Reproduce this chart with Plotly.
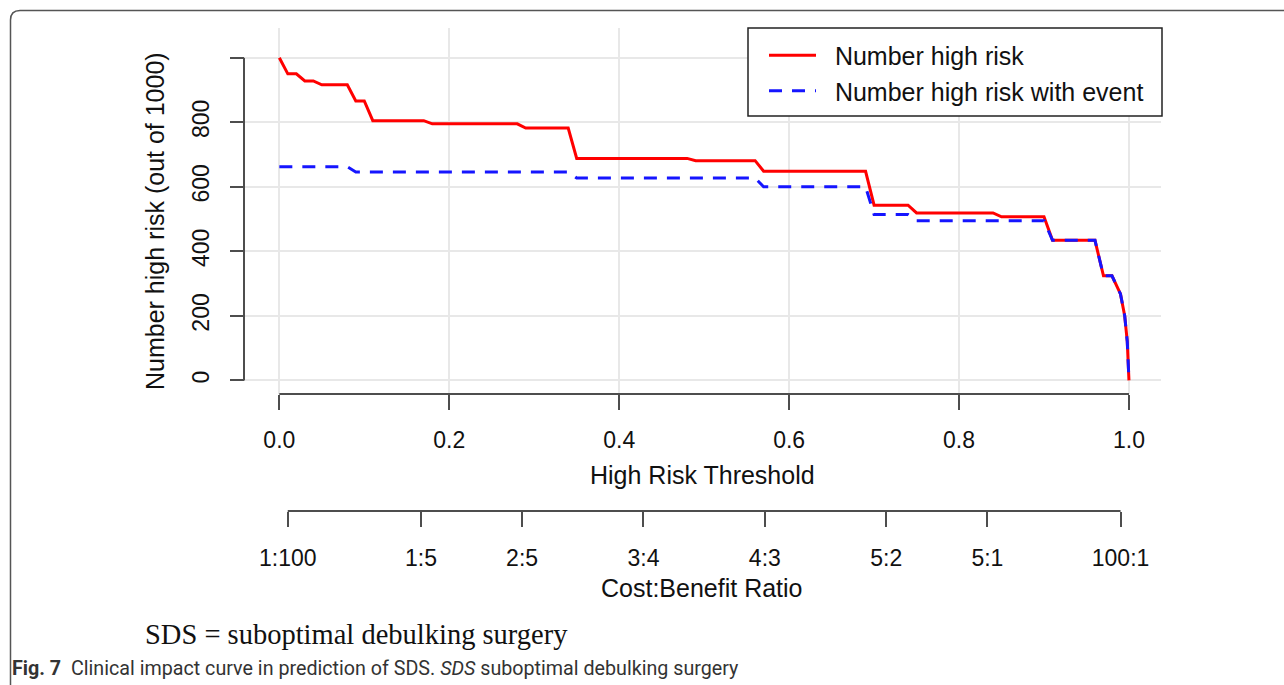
import plotly.graph_objects as go

# ---------------- data ----------------
threshold = [0.00, 0.01, 0.02, 0.03, 0.04, 0.05, 0.08, 0.09, 0.10, 0.11,
             0.17, 0.18, 0.28, 0.29, 0.34, 0.35, 0.48, 0.49, 0.56, 0.57,
             0.69, 0.70, 0.74, 0.75, 0.84, 0.85, 0.90, 0.91, 0.96, 0.97,
             0.98, 0.99, 0.995, 0.998, 1.00]
n_high_risk = [1000, 950, 950, 928, 928, 916, 916, 866, 866, 805,
               805, 795, 795, 782, 782, 688, 688, 681, 681, 648,
               648, 543, 543, 519, 519, 507, 507, 434, 434, 324,
               324, 268, 200, 120, 0]
n_high_risk_event = [662, 662, 662, 662, 662, 662, 662, 646, 646, 646,
                     646, 646, 646, 646, 646, 627, 627, 627, 627, 600,
                     600, 514, 514, 495, 495, 495, 495, 434, 434, 324,
                     324, 268, 200, 120, 0]

x_tick_vals = [0.0, 0.2, 0.4, 0.6, 0.8, 1.0]
x_tick_text = ["0.0", "0.2", "0.4", "0.6", "0.8", "1.0"]
y_tick_vals = [0, 200, 400, 600, 800, 1000]
y_tick_text = ["0", "200", "400", "600", "800", ""]
cb_cost = [1, 1, 2, 3, 4, 5, 5, 100]
cb_benefit = [100, 5, 5, 4, 3, 2, 1, 1]
cb_text = ["1:100", "1:5", "2:5", "3:4", "4:3", "5:2", "5:1", "100:1"]
cb_vals = [c / (c + b) for c, b in zip(cb_cost, cb_benefit)]

# ---------------- geometry ----------------
W, H = 1284, 685
ML, MR, MT, MB = 245, 123, 28, 174
PW = W - ML - MR
PH = H - MT - MB
X_RANGE = [-0.0404, 1.0377]
Y_RANGE = [-42, 1092]
Y_DOM_BOTTOM = (H - MB - 394) / PH


def px(xp):
    return (xp - ML) / PW


def py(yp):
    return (H - MB - yp) / PH


AX = "#4d4d4d"
FONT = "Liberation Sans, Arial, sans-serif"
GAP = "\u00a0\u00a0"

fig = go.Figure()
fig.add_trace(go.Scatter(
    x=threshold, y=n_high_risk, mode="lines", name=GAP + "Number high risk",
    line=dict(color="#ff0000", width=3)))
fig.add_trace(go.Scatter(
    x=threshold, y=n_high_risk_event, mode="lines",
    name=GAP + "Number high risk with event",
    line=dict(color="#1515ff", width=3, dash="13px,10px")))
# carrier for the cost:benefit axis
fig.add_trace(go.Scatter(x=cb_vals, y=[None] * len(cb_vals), mode="none",
                         xaxis="x2", showlegend=False, hoverinfo="skip"))

tickfont = dict(family=FONT, size=23, color="#111111")
fig.update_layout(
    width=W, height=H,
    margin=dict(l=ML, r=MR, t=MT, b=MB, autoexpand=False),
    paper_bgcolor="white", plot_bgcolor="white",
    xaxis=dict(range=X_RANGE, tickvals=x_tick_vals, ticktext=x_tick_text,
               showgrid=True, gridcolor="#e8e8e8", gridwidth=1.5,
               zeroline=False, showline=False, ticks="outside", ticklen=15,
               tickwidth=2, tickcolor=AX, tickfont=tickfont,
               ticklabelstandoff=10, automargin=False, anchor="y"),
    xaxis2=dict(range=X_RANGE, tickvals=cb_vals, ticktext=cb_text,
                overlaying="x", anchor="free", position=0, side="bottom",
                showgrid=False, zeroline=False, showline=False,
                ticks="outside", ticklen=15, tickwidth=2, tickcolor=AX,
                tickfont=tickfont, ticklabelstandoff=11, automargin=False),
    yaxis=dict(range=Y_RANGE, domain=[Y_DOM_BOTTOM, 1], tickvals=y_tick_vals,
               ticktext=y_tick_text, tickangle=-90,
               showgrid=True, gridcolor="#e8e8e8", gridwidth=1.5,
               zeroline=False, showline=False, ticks="outside", ticklen=14,
               tickwidth=2, tickcolor=AX, tickfont=tickfont,
               ticklabelstandoff=12, automargin=False),
    showlegend=True,
    legend=dict(x=px(764), y=py(32.5), xanchor="left", yanchor="top",
                bgcolor="rgba(0,0,0,0)", borderwidth=0,
                font=dict(family=FONT, size=25, color="#111111"),
                itemwidth=47, tracegroupgap=0),
)

shapes = [
    # legend box
    dict(type="rect", xref="paper", yref="paper", x0=px(748), x1=px(1162),
         y0=py(116), y1=py(28), line=dict(color="#222222", width=1.5),
         fillcolor="white", layer="above"),
    # threshold axis line
    dict(type="line", xref="x", yref="paper", x0=0, x1=1,
         y0=Y_DOM_BOTTOM, y1=Y_DOM_BOTTOM, line=dict(color=AX, width=2)),
    # cost:benefit axis line
    dict(type="line", xref="x", yref="paper", x0=cb_vals[0], x1=cb_vals[-1],
         y0=0, y1=0, line=dict(color=AX, width=2)),
    # y axis line
    dict(type="line", xref="paper", yref="y", x0=px(244), x1=px(244),
         y0=0, y1=1000, line=dict(color=AX, width=2)),
    # outer figure frame (rounded top-left corner)
    dict(type="path", xref="paper", yref="paper",
         path=(f"M {px(10.5)},{py(690)} L {px(10.5)},{py(20)} "
               f"Q {px(10.5)},{py(10.5)} {px(20)},{py(10.5)} "
               f"L {px(1290)},{py(10.5)}"),
         line=dict(color="#555555", width=1.5)),
]
fig.update_layout(shapes=shapes)

annotations = [
    dict(text="High Risk Threshold", x=px(702), y=py(474.5),
         font=dict(family=FONT, size=25, color="#111111")),
    dict(text="Cost:Benefit Ratio", x=px(702), y=py(588),
         font=dict(family=FONT, size=25, color="#111111")),
    dict(text="Number high risk (out of 1000)", x=px(155), y=py(221),
         textangle=-90, font=dict(family=FONT, size=25, color="#111111")),
    dict(text="SDS = suboptimal debulking surgery", x=px(143), y=py(634),
         xanchor="left",
         font=dict(family="Liberation Serif, Times New Roman, serif",
                   size=28.5, color="#111111")),
    dict(text="<b>Fig. 7</b>  Clinical impact curve in prediction of SDS. "
              "<i>SDS</i> suboptimal debulking surgery",
         x=px(10), y=py(668), xanchor="left",
         font=dict(family="Roboto, sans-serif", size=19.7, color="#333333")),
]
for a in annotations:
    a.setdefault("xanchor", "center")
    a.update(xref="paper", yref="paper", yanchor="middle", showarrow=False)
fig.update_layout(annotations=annotations)

fig.write_html("out.html")
